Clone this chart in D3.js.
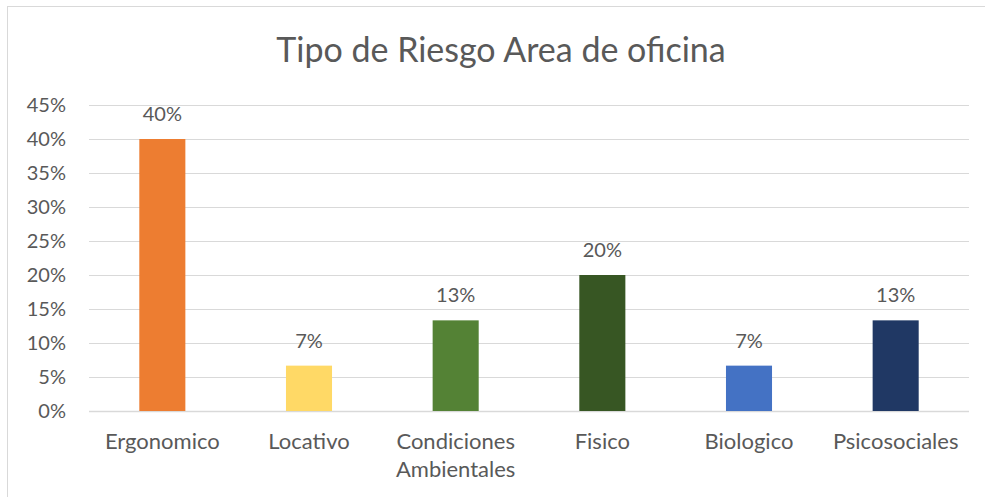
<!DOCTYPE html>
<html>
<head>
<meta charset="utf-8">
<script src="https://cdn.jsdelivr.net/npm/d3@7"></script>
<style>
  body { margin: 0; background: #fff; }
  text { font-family: Lato, "Open Sans", sans-serif; fill: #595959; }
</style>
</head>
<body>
<script>
// datos del grafico
const categorias = ['Ergonomico', 'Locativo', 'Condiciones Ambientales', 'Fisico', 'Biologico', 'Psicosociales'];
const valores = [0.40, 0.0667, 0.1333, 0.20, 0.0667, 0.1333];
const colores = ['#ED7D31', '#FFD966', '#548235', '#375623', '#4472C4', '#203864'];
const ticks = [0, 0.05, 0.10, 0.15, 0.20, 0.25, 0.30, 0.35, 0.40, 0.45];
const titulo = 'Tipo de Riesgo Area de oficina';

const width = 985;
const height = 497;
const plot = { left: 89, right: 969, top: 105, bottom: 411 };

const svg = d3.select('body').append('svg')
  .attr('width', width)
  .attr('height', height);

// marco del area del grafico
svg.append('rect')
  .attr('x', 7.5).attr('y', 6.5)
  .attr('width', 990).attr('height', 500)
  .attr('fill', 'none')
  .attr('stroke', '#d9d9d9');

// titulo
svg.append('text')
  .attr('x', 501).attr('y', 62)
  .attr('text-anchor', 'middle')
  .style('font-size', '34px')
  .text(titulo);

const x = d3.scaleBand()
  .domain(categorias)
  .range([plot.left, plot.right])
  .padding(0);

const y = d3.scaleLinear()
  .domain([0, 0.45])
  .range([plot.bottom, plot.top]);

const barW = x.bandwidth() * 0.314;

// lineas de cuadricula
svg.append('g')
  .selectAll('line')
  .data(ticks)
  .enter().append('line')
  .attr('x1', plot.left).attr('x2', plot.right)
  .attr('y1', d => Math.round(y(d)) + 0.5)
  .attr('y2', d => Math.round(y(d)) + 0.5)
  .attr('stroke', '#d9d9d9')
  .attr('stroke-width', d => d === 0 ? 1.5 : 1);

// etiquetas eje y
svg.append('g')
  .selectAll('text')
  .data(ticks)
  .enter().append('text')
  .attr('x', 66)
  .attr('y', d => y(d))
  .attr('dy', '0.35em')
  .attr('text-anchor', 'end')
  .style('font-size', '20px')
  .text(d => d3.format('.0%')(d));

// barras
svg.append('g')
  .selectAll('rect')
  .data(categorias)
  .enter().append('rect')
  .attr('x', d => x(d) + (x.bandwidth() - barW) / 2)
  .attr('y', (d, i) => y(valores[i]))
  .attr('width', barW)
  .attr('height', (d, i) => y(0) - y(valores[i]))
  .attr('fill', (d, i) => colores[i]);

// etiquetas de datos
svg.append('g')
  .selectAll('text')
  .data(categorias)
  .enter().append('text')
  .attr('x', d => x(d) + x.bandwidth() / 2)
  .attr('y', (d, i) => y(valores[i]) - 18)
  .attr('text-anchor', 'middle')
  .style('font-size', '20px')
  .text((d, i) => d3.format('.0%')(valores[i]));

// etiquetas de categoria (con salto de linea)
const catLabels = svg.append('g')
  .selectAll('text')
  .data(categorias)
  .enter().append('text')
  .attr('x', d => x(d) + x.bandwidth() / 2)
  .attr('y', 449)
  .attr('text-anchor', 'middle')
  .style('font-size', '22px');

catLabels.each(function(d) {
  const palabras = d === 'Condiciones Ambientales' ? d.split(' ') : [d];
  const t = d3.select(this);
  palabras.forEach((p, i) => {
    t.append('tspan')
      .attr('x', x(d) + x.bandwidth() / 2)
      .attr('dy', i === 0 ? 0 : 28)
      .text(p);
  });
});
</script>
</body>
</html>
